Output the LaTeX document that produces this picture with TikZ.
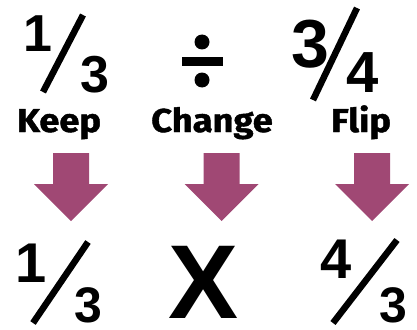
\documentclass[tikz,border=0pt]{standalone}
\usepackage{fontspec}
\newfontfamily\digitfont{Liberation Sans}
\newfontfamily\labelfont[BoldFeatures={FakeBold=1.2}]{Fira Sans}
\definecolor{arrowpurple}{RGB}{160,72,116}
\tikzset{
  num/.style={anchor=base, inner sep=0pt, font=\digitfont\bfseries},
  lbl/.style={anchor=base, inner sep=0pt, xscale=1.1, font=\labelfont\bfseries\fontsize{33}{33}\selectfont},
  slash/.style={line width=6.5pt},
  downarrow/.style={fill=arrowpurple}
}
\newcommand\downarr[1]{%
  \fill[downarrow, shift={(#1)}] (-18,0) -- (-18,31) -- (-37,31) -- (0,68) -- (37,31) -- (18,31) -- (18,0) -- cycle;}
\begin{document}
\begin{tikzpicture}[x=1pt,y=-1pt]
\useasboundingbox (0,0) rectangle (417,329);
% top row
\node[num, font=\digitfont\bfseries\fontsize{52}{52}\selectfont] (t1) at (38,52) {1};
\draw[slash] (43,92) -- (83,15);
\node[num, font=\digitfont\bfseries\fontsize{52}{52}\selectfont] (t3) at (95,92) {3};
\fill (182,57) rectangle (223,66);
\fill (202,42) circle (7.5);
\fill (202,80) circle (7.5);
\node[num, font=\digitfont\bfseries\fontsize{68}{68}\selectfont] (r3) at (310,67) {3};
\draw[slash] (313,100) -- (357,8);
\node[num, font=\digitfont\bfseries\fontsize{58}{58}\selectfont] (r4) at (363,92) {4};
% labels
\node[lbl] (keep) at (59,132) {Keep};
\node[lbl] (change) at (212,132) {Change};
\node[lbl] (flip) at (361,132) {Flip};
% arrows
\coordinate (a1) at (71,153);
\coordinate (a2) at (221.5,153);
\coordinate (a3) at (372,153);
\downarr{a1}
\downarr{a2}
\downarr{a3}
% bottom row
\node[num, font=\digitfont\bfseries\fontsize{56}{56}\selectfont] (b1) at (31,282) {1};
\draw[slash] (33,323) -- (88,242);
\node[num, font=\digitfont\bfseries\fontsize{50}{50}\selectfont] (b3) at (88,322) {3};
\node[num, font=\digitfont\bfseries\fontsize{105}{105}\selectfont] (x) at (204,318) {X};
\node[num, font=\digitfont\bfseries\fontsize{56}{56}\selectfont] (b4) at (336,278) {4};
\draw[slash] (333,323) -- (397,240);
\node[num, font=\digitfont\bfseries\fontsize{50}{50}\selectfont] (b5) at (393,322) {3};
\end{tikzpicture}
\end{document}
